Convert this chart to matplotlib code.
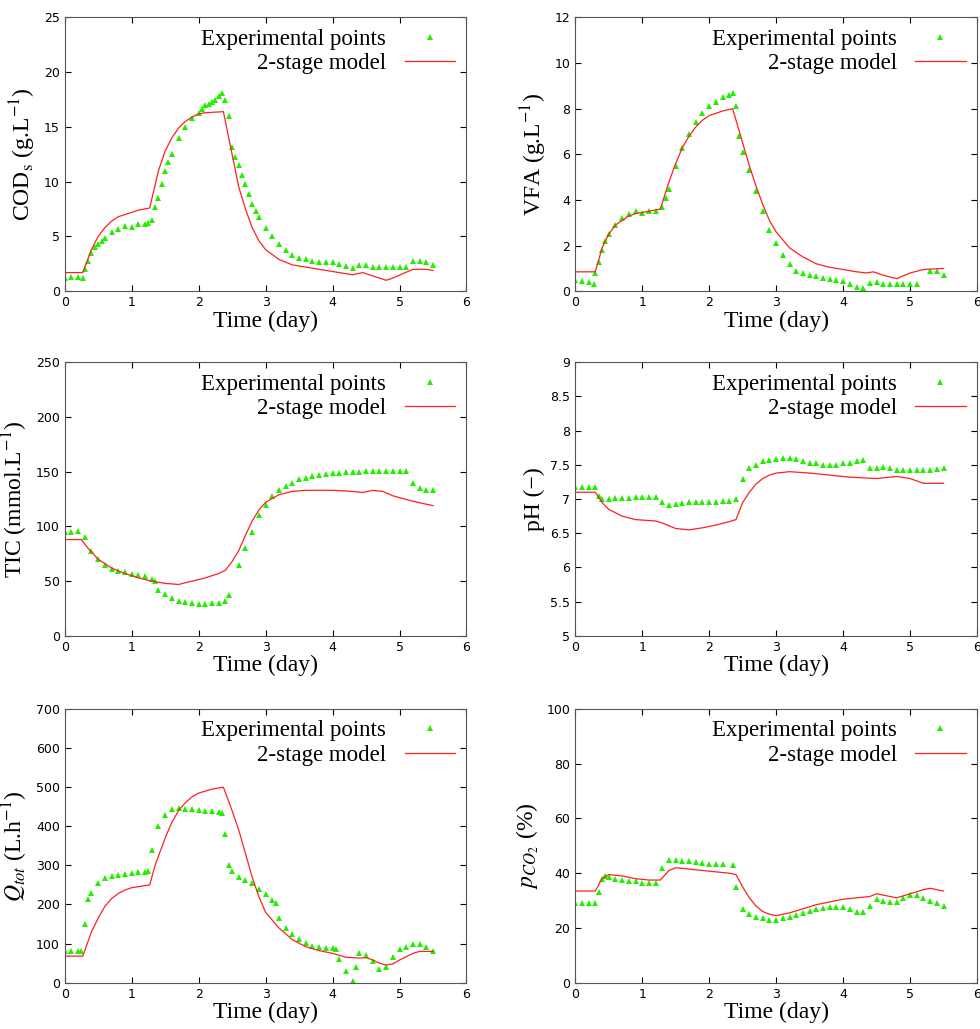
import matplotlib
matplotlib.use("Agg")
import matplotlib.pyplot as plt
from matplotlib.ticker import FormatStrFormatter

plt.rcParams["font.family"] = "DejaVu Sans"
plt.rcParams["mathtext.fontset"] = "stix"
plt.rcParams["xtick.direction"] = "in"
plt.rcParams["ytick.direction"] = "in"

GREEN = "#22ee00"
RED = "#ff2020"

# ---- COD_s ----
cod_t = [0, 0.1, 0.2, 0.28, 0.3, 0.35, 0.4, 0.45, 0.5, 0.55, 0.6, 0.7, 0.8, 0.9, 1.0, 1.1, 1.2, 1.25, 1.3, 1.35, 1.4, 1.45,
         1.5, 1.55, 1.6, 1.7, 1.8, 1.9, 2.0, 2.05, 2.1, 2.15, 2.2, 2.25, 2.3, 2.35, 2.4, 2.45, 2.5, 2.55, 2.6, 2.65, 2.7, 2.75, 2.8,
         2.85, 2.9, 3.0, 3.1, 3.2, 3.3, 3.4, 3.5, 3.6, 3.7, 3.8, 3.9, 4.0, 4.1, 4.2, 4.3, 4.4, 4.5, 4.6, 4.7,
         4.8, 4.9, 5.0, 5.1, 5.2, 5.3, 5.4, 5.5]
cod_exp = [1.2, 1.3, 1.3, 1.2, 2.0, 2.8, 3.5, 4.0, 4.3, 4.6, 4.9, 5.4, 5.7, 6.0, 5.9, 6.1, 6.1, 6.2, 6.5, 7.7, 8.5, 9.8,
           11.0, 11.8, 12.5, 14.0, 15.0, 15.8, 16.3, 16.6, 17.0, 17.1, 17.3, 17.5, 17.8, 18.1, 17.5, 16.0, 13.2, 12.3, 11.5, 10.6, 9.8, 8.9, 8.0,
           7.3, 6.8, 5.8, 5.0, 4.3, 3.8, 3.3, 3.0, 2.9, 2.8, 2.7, 2.7, 2.7, 2.5, 2.3, 2.1, 2.4, 2.4, 2.2, 2.2,
           2.2, 2.2, 2.2, 2.2, 2.8, 2.8, 2.7, 2.4]
cod_mt = [0, 0.27, 0.4, 0.5, 0.6, 0.7, 0.8, 0.9, 1.0, 1.1, 1.27, 1.4, 1.5, 1.6, 1.7, 1.8, 1.9, 2.0, 2.1, 2.37, 2.5, 2.6,
          2.7, 2.8, 2.9, 3.0, 3.2, 3.4, 3.6, 3.8, 4.0, 4.3, 4.45, 4.6, 4.8, 4.9, 5.2, 5.4, 5.5]
cod_mod = [1.7, 1.7, 3.8, 5.0, 5.8, 6.4, 6.8, 7.0, 7.2, 7.4, 7.6, 11.0, 12.8, 14.0, 14.9, 15.5, 15.9, 16.2, 16.3, 16.4, 12.5, 9.5,
           7.5, 5.8, 4.6, 3.8, 2.9, 2.4, 2.2, 2.0, 1.8, 1.5, 1.7, 1.4, 1.0, 1.2, 2.0, 2.0, 1.9]

# ---- VFA ----
vfa_t = [0, 0.1, 0.2, 0.28, 0.3, 0.35, 0.4, 0.45, 0.5, 0.6, 0.7, 0.8, 0.9, 1.0, 1.1, 1.2, 1.3, 1.35, 1.4, 1.5, 1.6, 1.7,
         1.8, 1.9, 2.0, 2.1, 2.2, 2.3, 2.35, 2.4, 2.45, 2.5, 2.6, 2.7, 2.8, 2.9, 3.0, 3.1, 3.2, 3.3, 3.4, 3.5, 3.6, 3.7,
         3.8, 3.9, 4.0, 4.1, 4.2, 4.3, 4.4, 4.5, 4.6, 4.7, 4.8, 4.9, 5.0, 5.1, 5.3, 5.4, 5.5]
vfa_exp = [0.5, 0.45, 0.4, 0.3, 0.8, 1.3, 1.8, 2.2, 2.5, 2.9, 3.2, 3.4, 3.5, 3.45, 3.5, 3.5, 3.7, 4.1, 4.5, 5.5, 6.3, 6.9,
           7.4, 7.8, 8.1, 8.3, 8.5, 8.6, 8.7, 8.1, 6.8, 6.1, 5.3, 4.4, 3.5, 2.7, 2.1, 1.6, 1.2, 0.9, 0.8, 0.7, 0.65, 0.6,
           0.55, 0.5, 0.45, 0.3, 0.2, 0.15, 0.35, 0.4, 0.3, 0.3, 0.3, 0.3, 0.3, 0.3, 0.9, 0.9, 0.7]
vfa_mt = [0, 0.3, 0.4, 0.5, 0.6, 0.7, 0.8, 0.9, 1.0, 1.27, 1.4, 1.5, 1.6, 1.7, 1.8, 1.9, 2.0, 2.2, 2.35, 2.5, 2.6, 2.7,
          2.8, 2.9, 3.0, 3.2, 3.4, 3.6, 3.8, 4.0, 4.2, 4.35, 4.45, 4.6, 4.8, 5.0, 5.2, 5.5]
vfa_mod = [0.85, 0.85, 1.9, 2.5, 2.9, 3.1, 3.3, 3.4, 3.45, 3.6, 4.8, 5.6, 6.3, 6.8, 7.2, 7.5, 7.7, 7.9, 8.0, 6.5, 5.5, 4.6,
           3.8, 3.1, 2.6, 1.9, 1.5, 1.2, 1.05, 0.95, 0.85, 0.8, 0.85, 0.7, 0.55, 0.8, 0.95, 1.0]

# ---- TIC ----
tic_t = [0, 0.1, 0.2, 0.3, 0.4, 0.5, 0.6, 0.7, 0.8, 0.9, 1.0, 1.1, 1.2, 1.3, 1.35, 1.4, 1.5, 1.6, 1.7, 1.8, 1.9, 2.0,
         2.1, 2.2, 2.3, 2.4, 2.45, 2.6, 2.7, 2.8, 2.9, 3.0, 3.1, 3.2, 3.3, 3.4, 3.5, 3.6, 3.7, 3.8, 3.9, 4.0,
         4.1, 4.2, 4.3, 4.4, 4.5, 4.6, 4.7, 4.8, 4.9, 5.0, 5.1, 5.2, 5.3, 5.4, 5.5]
tic_exp = [95, 95, 96, 90, 78, 70, 65, 61, 59, 58, 57, 56, 55, 52, 50, 42, 38, 35, 32, 31, 30, 29,
           29, 30, 30, 32, 37, 65, 80, 95, 110, 120, 128, 133, 137, 140, 143, 144, 146, 147, 148, 149,
           149, 150, 150, 150, 151, 151, 151, 151, 151, 151, 151, 140, 135, 133, 133]
tic_mt = [0, 0.25, 0.35, 0.5, 0.7, 0.9, 1.1, 1.3, 1.5, 1.7, 1.9, 2.1, 2.3, 2.4, 2.5, 2.6, 2.7, 2.8, 2.9, 3.0, 3.2, 3.4,
          3.6, 3.8, 4.0, 4.3, 4.45, 4.6, 4.75, 4.9, 5.2, 5.5]
tic_mod = [88, 88, 80, 70, 62, 57, 53, 50, 48, 47, 50, 53, 57, 60, 68, 78, 92, 105, 115, 122, 129, 132,
           133, 133, 133, 132, 131, 133, 132, 128, 123, 119]

# ---- pH ----
ph_t = [0, 0.1, 0.2, 0.3, 0.35, 0.4, 0.5, 0.6, 0.7, 0.8, 0.9, 1.0, 1.1, 1.2, 1.3, 1.4, 1.5, 1.6, 1.7, 1.8, 1.9, 2.0,
        2.1, 2.2, 2.3, 2.4, 2.5, 2.6, 2.7, 2.8, 2.9, 3.0, 3.1, 3.2, 3.3, 3.4, 3.5, 3.6, 3.7, 3.8, 3.9, 4.0,
        4.1, 4.2, 4.3, 4.4, 4.5, 4.6, 4.7, 4.8, 4.9, 5.0, 5.1, 5.2, 5.3, 5.4, 5.5]
ph_exp = [7.17, 7.18, 7.17, 7.17, 7.05, 7.0, 7.0, 7.01, 7.02, 7.02, 7.03, 7.03, 7.03, 7.03, 6.95, 6.92, 6.93, 6.94, 6.95, 6.95, 6.95, 6.96,
          6.96, 6.97, 6.97, 7.0, 7.3, 7.45, 7.5, 7.55, 7.57, 7.58, 7.6, 7.6, 7.58, 7.55, 7.53, 7.52, 7.5, 7.5, 7.5, 7.52,
          7.53, 7.55, 7.57, 7.45, 7.45, 7.47, 7.45, 7.43, 7.42, 7.42, 7.42, 7.43, 7.43, 7.44, 7.45]
ph_mt = [0, 0.3, 0.4, 0.5, 0.7, 0.9, 1.2, 1.3, 1.5, 1.7, 1.9, 2.1, 2.3, 2.4, 2.5, 2.6, 2.7, 2.8, 2.9, 3.0, 3.2, 3.5,
         3.8, 4.1, 4.3, 4.5, 4.7, 4.8, 5.0, 5.2, 5.5]
ph_mod = [7.1, 7.1, 6.95, 6.85, 6.75, 6.7, 6.68, 6.65, 6.57, 6.55, 6.58, 6.62, 6.67, 6.7, 6.95, 7.1, 7.22, 7.3, 7.35, 7.38, 7.4, 7.38,
          7.35, 7.32, 7.31, 7.3, 7.32, 7.33, 7.3, 7.23, 7.23]

# ---- Q_tot ----
q_t = [0, 0.1, 0.2, 0.25, 0.3, 0.35, 0.4, 0.5, 0.6, 0.7, 0.8, 0.9, 1.0, 1.1, 1.2, 1.25, 1.3, 1.4, 1.5, 1.6, 1.7, 1.8,
       1.9, 2.0, 2.1, 2.2, 2.3, 2.35, 2.4, 2.45, 2.5, 2.6, 2.7, 2.8, 2.9, 3.0, 3.1, 3.15, 3.2, 3.3, 3.4, 3.5,
       3.6, 3.7, 3.8, 3.9, 4.0, 4.05, 4.1, 4.2, 4.3, 4.35, 4.4, 4.5, 4.6, 4.7, 4.8, 4.9, 5.0, 5.1, 5.2, 5.3, 5.4, 5.5]
q_exp = [80, 80, 80, 80, 150, 215, 230, 255, 268, 273, 275, 277, 280, 282, 283, 285, 340, 400, 430, 445, 448, 445,
         443, 442, 440, 440, 437, 435, 380, 300, 285, 270, 262, 255, 240, 228, 212, 205, 165, 140, 125, 112,
         102, 95, 92, 90, 88, 85, 60, 30, 5, 40, 75, 70, 55, 35, 40, 65, 85, 92, 100, 100, 92, 82]
q_mt = [0, 0.27, 0.4, 0.5, 0.6, 0.7, 0.8, 0.9, 1.0, 1.27, 1.35, 1.5, 1.6, 1.7, 1.8, 1.9, 2.0, 2.2, 2.37, 2.5, 2.6, 2.7,
        2.8, 2.9, 3.0, 3.2, 3.4, 3.6, 3.8, 4.0, 4.2, 4.4, 4.5, 4.6, 4.7, 4.8, 4.9, 5.0, 5.2, 5.3, 5.5]
q_mod = [68, 68, 130, 165, 195, 215, 228, 237, 243, 250, 300, 370, 410, 440, 460, 475, 485, 495, 500, 440, 390, 330,
         270, 220, 180, 140, 110, 92, 82, 75, 65, 63, 64, 58, 50, 45, 48, 58, 75, 80, 80]

# ---- pCO2 ----
co2_t = [0, 0.1, 0.2, 0.3, 0.35, 0.4, 0.45, 0.5, 0.6, 0.7, 0.8, 0.9, 1.0, 1.1, 1.2, 1.3, 1.4, 1.5, 1.6, 1.7, 1.8, 1.9,
         2.0, 2.1, 2.2, 2.35, 2.4, 2.5, 2.6, 2.7, 2.8, 2.9, 3.0, 3.1, 3.2, 3.3, 3.4, 3.5, 3.6, 3.7, 3.8, 3.9, 4.0,
         4.1, 4.2, 4.3, 4.4, 4.5, 4.6, 4.7, 4.8, 4.9, 5.0, 5.1, 5.2, 5.3, 5.4, 5.5]
co2_exp = [29, 29, 29, 29, 33, 38, 39, 38.5, 38, 37.5, 37, 37, 36.5, 36.5, 36.5, 42, 45, 45, 44.5, 44.3, 44, 43.8,
           43.5, 43.5, 43.5, 43, 35, 27, 25, 24, 23.5, 23, 23, 23.5, 24, 24.8, 25.5, 26.3, 27, 27.3, 27.5, 27.5, 27.5,
           27, 26, 26, 28, 30.5, 30, 29.5, 29.5, 31, 32, 32, 31, 30, 29, 28]
co2_mt = [0, 0.3, 0.4, 0.5, 0.7, 0.9, 1.1, 1.27, 1.4, 1.5, 1.7, 1.9, 2.1, 2.3, 2.4, 2.5, 2.6, 2.7, 2.8, 2.9, 3.0, 3.2,
          3.4, 3.6, 3.8, 4.0, 4.2, 4.4, 4.5, 4.6, 4.8, 5.0, 5.2, 5.3, 5.5]
co2_mod = [33.5, 33.5, 38, 39.5, 39, 38, 37.5, 37.5, 41, 42, 41.5, 41, 40.5, 40, 39.5, 35, 31, 28, 26, 25, 24.5, 25.5,
           27, 28.5, 29.5, 30.5, 31, 31.5, 32.5, 32, 31, 32.5, 34, 34.5, 33.5]

panels = [
    (cod_t, cod_exp, cod_mt, cod_mod, r"COD$_\mathrm{s}$ (g.L$^{-1}$)", (0, 25), range(0, 26, 5)),
    (vfa_t, vfa_exp, vfa_mt, vfa_mod, r"VFA (g.L$^{-1}$)", (0, 12), range(0, 13, 2)),
    (tic_t, tic_exp, tic_mt, tic_mod, r"TIC (mmol.L$^{-1}$)", (0, 250), range(0, 251, 50)),
    (ph_t, ph_exp, ph_mt, ph_mod, "pH (\u2212)", (5, 9), [5, 5.5, 6, 6.5, 7, 7.5, 8, 8.5, 9]),
    (q_t, q_exp, q_mt, q_mod, r"$Q_{tot}$ (L.h$^{-1}$)", (0, 700), range(0, 701, 100)),
    (co2_t, co2_exp, co2_mt, co2_mod, r"$p_{CO_2}$ (%)", (0, 100), range(0, 101, 20)),
]

fig = plt.figure(figsize=(9.8, 10.29), dpi=100)
lefts = [0.066, 0.587]
bottoms = [0.717, 0.382, 0.045]
serif = "Liberation Serif"

for i, (t, e, mt, m, ylab, ylim, yt) in enumerate(panels):
    ax = fig.add_axes([lefts[i % 2], bottoms[i // 2], 0.41, 0.266])
    ax.plot(t, e, "^", color=GREEN, markersize=4.5, markeredgewidth=0, label="Experimental points")
    ax.plot(mt, m, "-", color=RED, linewidth=0.9, label="2-stage model")
    ax.set_xlim(0, 6)
    ax.set_ylim(*ylim)
    ax.set_yticks(list(yt))
    ax.yaxis.set_major_formatter(FormatStrFormatter("%g"))
    ax.set_xticks(range(0, 7))
    ax.tick_params(labelsize=9, top=True, right=True, length=4)
    ax.set_xlabel("Time (day)", family=serif, fontsize=17, labelpad=1)
    ax.set_ylabel(ylab, family=serif, fontsize=17, labelpad=4)
    for s in ax.spines.values():
        s.set_color("#555555")
    ax.legend(loc="upper right", frameon=False, markerfirst=False,
              prop={"family": serif, "size": 16.5}, handlelength=2.2,
              borderaxespad=0.1, labelspacing=0.15, handletextpad=0.8)

fig.savefig("out.png", dpi=100)
